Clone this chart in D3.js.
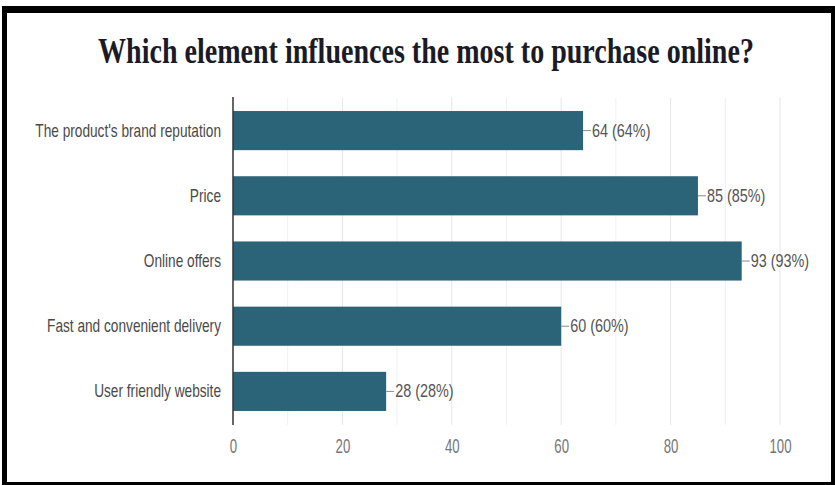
<!DOCTYPE html>
<html>
<head>
<meta charset="utf-8">
<script src="https://cdn.jsdelivr.net/npm/d3@7"></script>
<style>
  html, body { margin: 0; padding: 0; background: #fff; }
  svg { display: block; }
</style>
</head>
<body>
<svg id="chart" width="835" height="485"></svg>
<script>
// Survey question and answers
const title = "Which element influences the most to purchase online?";
const categories = [
  "The product's brand reputation",
  "Price",
  "Online offers",
  "Fast and convenient delivery",
  "User friendly website"
];
const counts = [64, 85, 93, 60, 28];
const percents = [64, 85, 93, 60, 28];
const tickValues = [0, 20, 40, 60, 80, 100];
const gridValues = [10, 20, 30, 40, 50, 60, 70, 80, 90, 100];

const W = 835, H = 485;
const plot = { left: 233, right: 780, top: 98, bottom: 424 };

const svg = d3.select("#chart");

// Horizontally condense a text element around its anchor point
function condense(sel, k) {
  sel.each(function () {
    const t = d3.select(this);
    const x = +t.attr("x") || 0, y = +t.attr("y") || 0;
    t.attr("x", 0).attr("y", 0)
     .attr("transform", `translate(${x},${y}) scale(${k},1)`);
  });
}

const x = d3.scaleLinear().domain([0, 100]).range([plot.left, plot.right]);
const y = d3.scaleBand().domain(categories).range([plot.top, plot.bottom])
  .paddingInner(0.4).paddingOuter(0.2);

// Gridlines
svg.append("g").selectAll("line").data(gridValues).join("line")
  .attr("x1", d => x(d)).attr("x2", d => x(d))
  .attr("y1", plot.top).attr("y2", plot.bottom + 1)
  .attr("stroke", d => d % 20 === 0 ? "#e6e6e6" : "#f1f1f1")
  .attr("stroke-width", 1);

// Bars
const rows = categories.map((c, i) => ({ c, v: counts[i], p: percents[i] }));
svg.append("g").selectAll("rect").data(rows).join("rect")
  .attr("x", x(0))
  .attr("y", d => y(d.c))
  .attr("width", d => x(d.v) - x(0))
  .attr("height", y.bandwidth())
  .attr("fill", "#2b6378");

// Leader lines and value labels
svg.append("g").selectAll("line").data(rows).join("line")
  .attr("x1", d => x(d.v)).attr("x2", d => x(d.v) + 8)
  .attr("y1", d => y(d.c) + y.bandwidth() / 2)
  .attr("y2", d => y(d.c) + y.bandwidth() / 2)
  .attr("stroke", "#8a8a8a").attr("stroke-width", 1);

svg.append("g").selectAll("text").data(rows).join("text")
  .attr("x", d => x(d.v) + 9)
  .attr("y", d => y(d.c) + y.bandwidth() / 2 + 6)
  .attr("font-family", "Liberation Sans, Arial, sans-serif")
  .attr("font-size", 18)
  .attr("fill", "#555")
  .text(d => `${d.v} (${d.p}%)`)
  .call(condense, 0.8);

// Category labels
svg.append("g").selectAll("text").data(categories).join("text")
  .attr("x", plot.left - 12)
  .attr("y", d => y(d) + y.bandwidth() / 2 + 6)
  .attr("text-anchor", "end")
  .attr("font-family", "Liberation Sans, Arial, sans-serif")
  .attr("font-size", 18)
  .attr("fill", "#4a4a4a")
  .text(d => d)
  .call(condense, 0.76);

// Baseline axis
svg.append("line")
  .attr("x1", x(0)).attr("x2", x(0))
  .attr("y1", plot.top - 1).attr("y2", plot.bottom + 1)
  .attr("stroke", "#333").attr("stroke-width", 1.5);

// Value axis tick labels
const xAxis = d3.axisBottom(x).tickValues(tickValues).tickSize(0).tickPadding(0);
const ax = svg.append("g").attr("transform", `translate(0,${plot.bottom})`).call(xAxis);
ax.select(".domain").remove();
ax.selectAll("text")
  .attr("dy", null)
  .attr("y", 29)
  .attr("font-family", "Liberation Sans, Arial, sans-serif")
  .attr("font-size", 20)
  .attr("fill", "#777")
  .call(condense, 0.66);

// Title
const t = svg.append("text")
  .attr("x", 426).attr("y", 63)
  .attr("text-anchor", "middle")
  .attr("font-family", "Liberation Serif, Times New Roman, serif")
  .attr("font-weight", "bold")
  .attr("font-size", 35)
  .attr("fill", "#1b1b26")
  .text(title);
const tw = t.node().getComputedTextLength();
t.call(condense, 656 / tw);

// Black frame
const frame = svg.append("g").attr("fill", "#000");
frame.append("rect").attr("x", 2).attr("y", 6).attr("width", 833).attr("height", 7);
frame.append("rect").attr("x", 2).attr("y", 6).attr("width", 5).attr("height", 479);
frame.append("rect").attr("x", 831).attr("y", 6).attr("width", 4).attr("height", 479);
frame.append("rect").attr("x", 2).attr("y", 482).attr("width", 833).attr("height", 3);
</script>
</body>
</html>
